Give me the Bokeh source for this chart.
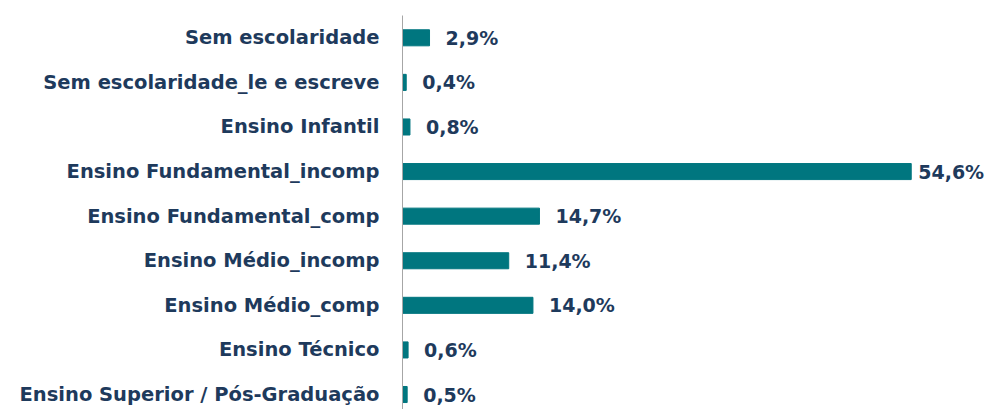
from bokeh.plotting import figure
from bokeh.models import ColumnDataSource, Range1d, FixedTicker
from bokeh.embed import file_html
from bokeh.resources import INLINE
from bokeh.core.properties import value

categories = [
    "Sem escolaridade",
    "Sem escolaridade_le e escreve",
    "Ensino Infantil",
    "Ensino Fundamental_incomp",
    "Ensino Fundamental_comp",
    "Ensino Médio_incomp",
    "Ensino Médio_comp",
    "Ensino Técnico",
    "Ensino Superior / Pós-Graduação",
]
percent = [2.9, 0.4, 0.8, 54.6, 14.7, 11.4, 14.0, 0.6, 0.5]
labels = [f"{v:.1f}".replace(".", ",") + "%" for v in percent]

ypos = list(range(len(categories)))
XMAX = 63.0
# labels of bars near the right edge sit closer to the bar end
offsets = [7 if v > 0.8 * XMAX else 16 for v in percent]
src = ColumnDataSource(dict(y=ypos, v=percent, lab=labels, off=offsets))

FONT = "DejaVu Sans"
TEXT = "#1E3A5C"
BAR = "#00767F"

p = figure(width=989, height=409, output_backend="svg", toolbar_location=None,
           x_range=Range1d(0, XMAX), y_range=Range1d(8.336, -0.5),
           min_border_left=402, min_border_top=15, min_border_bottom=0, min_border_right=0)
p.hbar(y="y", right="v", left=0, height=0.36, source=src, color=BAR)
p.text(x="v", y="y", text="lab", source=src, x_offset="off",
       text_font=value(FONT), text_font_style="bold", text_font_size="19px",
       text_color=TEXT, text_baseline="middle", text_align="left")

p.xaxis.visible = False
p.xgrid.visible = False
p.ygrid.visible = False
p.outline_line_color = None
ax = p.yaxis[0]
ax.ticker = FixedTicker(ticks=ypos)
ax.major_label_overrides = {i: c for i, c in enumerate(categories)}
ax.major_tick_line_color = None
ax.minor_tick_line_color = None
ax.axis_line_color = "#A6A6A6"
ax.axis_line_width = 1
ax.major_label_text_font = FONT
ax.major_label_text_font_style = "bold"
ax.major_label_text_font_size = "19.5px"
ax.major_label_text_color = TEXT
ax.major_label_standoff = 17

open("out.html", "w").write(file_html(p, INLINE))
